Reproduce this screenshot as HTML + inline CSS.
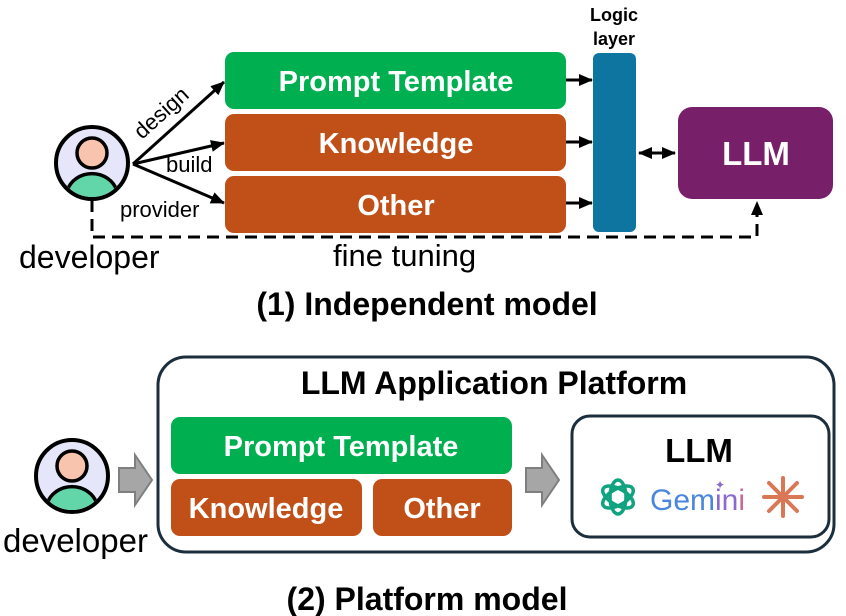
<!DOCTYPE html>
<html><head><meta charset="utf-8"><style>
html,body{margin:0;padding:0;background:#fff;}
svg{display:block;font-family:"Liberation Sans",Arial,sans-serif;}
</style></head><body>
<svg width="846" height="616" viewBox="0 0 846 616" xmlns="http://www.w3.org/2000/svg">
<defs>
<marker id="ah" markerWidth="14" markerHeight="12" refX="13" refY="6" orient="auto" markerUnits="userSpaceOnUse">
<path d="M0,0 L14,6 L0,12 Z" fill="#000"/></marker>
<marker id="ahs" markerWidth="14" markerHeight="12" refX="1" refY="6" orient="auto" markerUnits="userSpaceOnUse">
<path d="M14,0 L0,6 L14,12 Z" fill="#000"/></marker>
<g id="dev">
<circle cx="0" cy="0" r="36" fill="#e6e6fa" stroke="#000" stroke-width="4"/>
<clipPath id="cc"><circle cx="0" cy="0" r="34"/></clipPath>
<path d="M-25,28 A26,24 0 0 1 25,28 L25,40 L-25,40 Z" fill="#62d6a8" stroke="#000" stroke-width="3.5" clip-path="url(#cc)"/>
<circle cx="0" cy="-10" r="15" fill="#f8c4ae" stroke="#000" stroke-width="3.5"/>
</g>
</defs>

<!-- top part -->
<rect x="225" y="52" width="341" height="57" rx="9" fill="#00b050"/>
<rect x="225" y="114" width="341" height="57" rx="9" fill="#c05018"/>
<rect x="225" y="176" width="341" height="57" rx="9" fill="#c05018"/>
<g fill="#fff" font-weight="bold" font-size="29" text-anchor="middle">
<text x="396" y="91">Prompt Template</text>
<text x="396" y="153">Knowledge</text>
<text x="396" y="215">Other</text>
</g>
<rect x="593" y="53" width="43" height="179" rx="6" fill="#0e74a0"/>
<g font-weight="bold" font-size="18" text-anchor="middle">
<text x="614" y="21">Logic</text>
<text x="614" y="45">layer</text>
</g>
<rect x="678" y="107" width="155" height="92" rx="14" fill="#781f6a"/>
<text x="756" y="165" fill="#fff" font-weight="bold" font-size="33" text-anchor="middle">LLM</text>

<g stroke="#000" stroke-width="3">
<line x1="566" y1="80" x2="592" y2="80" marker-end="url(#ah)"/>
<line x1="566" y1="142" x2="592" y2="142" marker-end="url(#ah)"/>
<line x1="566" y1="203" x2="592" y2="203" marker-end="url(#ah)"/>
<line x1="639" y1="153" x2="675" y2="153" marker-end="url(#ah)" marker-start="url(#ahs)"/>
<line x1="133" y1="164" x2="224" y2="82" marker-end="url(#ah)"/>
<line x1="133" y1="164" x2="224" y2="143" marker-end="url(#ah)"/>
<line x1="133" y1="164" x2="224" y2="203" marker-end="url(#ah)"/>
<path d="M92,200 L92,237 L757,237 L757,202" fill="none" stroke-dasharray="12,7" marker-end="url(#ah)"/>
</g>
<use href="#dev" x="92" y="163"/>
<g font-size="22">
<text x="0" y="0" transform="translate(142,140) rotate(-42)">design</text>
<text x="166" y="172">build</text>
<text x="120" y="217">provider</text>
</g>
<text x="19" y="268" font-size="32">developer</text>
<text x="333" y="266" font-size="31">fine tuning</text>
<text x="427" y="315" font-size="32" font-weight="bold" text-anchor="middle">(1) Independent model</text>

<!-- bottom part -->
<rect x="158" y="357" width="676" height="195" rx="28" fill="#fff" stroke="#1c2e3c" stroke-width="3"/>
<text x="494" y="394" font-size="32" font-weight="bold" text-anchor="middle">LLM Application Platform</text>
<rect x="171" y="417" width="341" height="57" rx="9" fill="#00b050"/>
<rect x="171" y="479" width="191" height="57" rx="9" fill="#c05018"/>
<rect x="373" y="479" width="139" height="57" rx="9" fill="#c05018"/>
<g fill="#fff" font-weight="bold" font-size="29" text-anchor="middle">
<text x="341" y="456">Prompt Template</text>
<text x="266" y="518">Knowledge</text>
<text x="442" y="518">Other</text>
</g>
<rect x="572" y="416" width="257" height="121" rx="18" fill="#fff" stroke="#1c2e3c" stroke-width="3"/>
<text x="699" y="462" font-size="33" font-weight="bold" text-anchor="middle">LLM</text>
<g transform="translate(618,497)" fill="none" stroke="#10a37f" stroke-width="3.5">
<ellipse rx="8" ry="17"/>
<ellipse rx="8" ry="17" transform="rotate(60)"/>
<ellipse rx="8" ry="17" transform="rotate(120)"/>
</g>
<text x="650" y="510" font-size="30" fill="#4a86e0">Gem<tspan fill="#8a6ad0">in</tspan><tspan fill="#c86a9a">i</tspan></text>
<text x="715" y="489" font-size="12" fill="#8a6ad0">✦</text>
<g transform="translate(783,497)" stroke="#d97757" stroke-width="4" stroke-linecap="round">
<line x1="-19" y1="0" x2="19" y2="0"/><line x1="0" y1="-19" x2="0" y2="19"/>
<line x1="-14" y1="-14" x2="14" y2="14"/><line x1="-14" y1="14" x2="14" y2="-14"/>
</g>
<g fill="#a6a6a6" stroke="#7f7f7f" stroke-width="2">
<path d="M119,468 L135,468 L135,455 L152,480 L135,505 L135,492 L119,492 Z"/>
<path d="M526,468 L542,468 L542,455 L559,480 L542,505 L542,492 L526,492 Z"/>
</g>
<use href="#dev" x="72" y="476"/>
<text x="3" y="552" font-size="33">developer</text>
<text x="427" y="610" font-size="32" font-weight="bold" text-anchor="middle">(2) Platform model</text>
</svg>
</body></html>
